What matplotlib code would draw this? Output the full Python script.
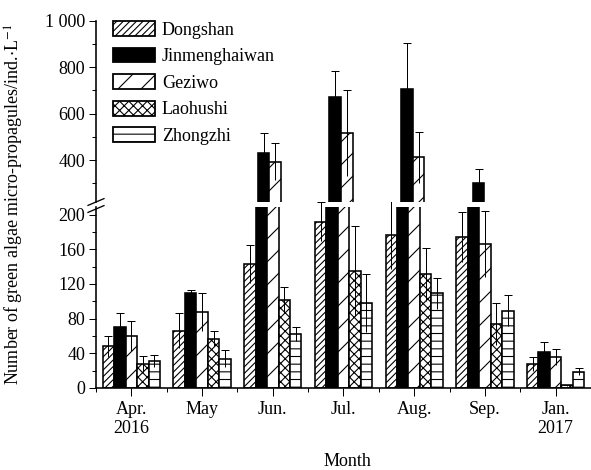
import matplotlib
matplotlib.use('Agg')
import matplotlib.pyplot as plt
from matplotlib.patches import Patch
from matplotlib.lines import Line2D
import numpy as np

# ---------------- data ----------------
months = ['Apr.\n2016', 'May', 'Jun.', 'Jul.', 'Aug.', 'Sep.', 'Jan.\n2017']
sites = ['Dongshan', 'Jinmenghaiwan', 'Geziwo', 'Laohushi', 'Zhongzhi']
dongshan = [48, 66, 143, 192, 177, 174, 28]
dongshan_err = [12, 20, 22, 23, 40, 29, 8]
jinmenghaiwan = [70, 110, 429, 673, 705, 300, 42]
jinmenghaiwan_err = [17, 3, 86, 112, 200, 60, 11]
geziwo = [60, 88, 393, 515, 412, 166, 36]
geziwo_err = [17, 22, 79, 185, 110, 38, 9]
laohushi = [28, 57, 101, 135, 131, 74, 3]
laohushi_err = [9, 9, 15, 52, 31, 24, 1]
zhongzhi = [31, 34, 62, 98, 109, 89, 19]
zhongzhi_err = [7, 10, 8, 33, 18, 18, 4]

values = [dongshan, jinmenghaiwan, geziwo, laohushi, zhongzhi]
errors = [dongshan_err, jinmenghaiwan_err, geziwo_err, laohushi_err, zhongzhi_err]

lower_ticks = [0, 40, 80, 120, 160, 200]
upper_ticks = [400, 600, 800, 1000]
upper_ticklabels = ['400', '600', '800', '1 000']

# ---------------- style ----------------
DPI = 138
W, H = 591, 470
PT = 72.0 / DPI  # points per pixel

plt.rcParams['font.family'] = ['Liberation Serif', 'DejaVu Serif']
plt.rcParams['mathtext.fontset'] = 'stix'
plt.rcParams['hatch.linewidth'] = 1.1 * PT
FS = 18 * PT

hatches = ['///////', None, '//', 'xxxxx', '---']
faces = ['white', 'black', 'white', 'white', 'white']

fig = plt.figure(figsize=(W / DPI, H / DPI), dpi=DPI)

def fx(px):
    return px / W

def fy(py):
    return 1 - py / H

left, right = 96, 591
ax_lo = fig.add_axes([fx(left), fy(388), fx(right - left), (388 - 207) / H])
ax_hi = fig.add_axes([fx(left), fy(202), fx(right - left), (202 - 20.7) / H])

lo_max = (388 - 207) / 0.867
hi_min = 400 - (202 - 160) / 0.23217

x = np.arange(len(months))
bw = 0.162
offsets = (np.arange(5) - 2) * bw

for ax in (ax_lo, ax_hi):
    for i in range(5):
        ax.bar(x + offsets[i], values[i], width=bw, color=faces[i],
               edgecolor='black', linewidth=1.6 * PT, hatch=hatches[i], zorder=2)
    ax.set_xlim(-0.5, -0.5 + (right - left) / 71.67)
    for s in ('top', 'right'):
        ax.spines[s].set_visible(False)
    ax.spines['left'].set_linewidth(1.6 * PT)
    ax.spines['bottom'].set_linewidth(1.6 * PT)

cap_ms = 8 * PT
elw = 1.0 * PT
for i in range(5):
    for j in range(len(months)):
        v, e = values[i][j], errors[i][j]
        xx = x[j] + offsets[i]
        if v < lo_max:
            ax = ax_lo
        else:
            ax = ax_hi
        ax.vlines(xx, v - e, v + e, colors='black', linewidth=elw, zorder=3,
                  clip_on=False)
        ax.plot([xx], [v + e], marker='_', ms=cap_ms, mew=elw, color='black',
                ls='none', zorder=3, clip_on=False)

ax_lo.set_ylim(0, lo_max)
ax_hi.set_ylim(hi_min, 1000)

ax_lo.set_yticks(lower_ticks)
ax_lo.set_yticks(np.arange(20, 200, 40), minor=True)
ax_hi.set_yticks(upper_ticks)
ax_hi.set_yticklabels(upper_ticklabels)
ax_hi.set_yticks([300, 500, 700, 900], minor=True)

ax_lo.set_xticks(x)
ax_lo.set_xticklabels(months)
ax_lo.set_xticks(np.arange(-0.5, 6.6, 1.0), minor=True)

ax_hi.spines['bottom'].set_visible(False)
ax_hi.tick_params(axis='x', which='both', bottom=False, labelbottom=False)

for ax in (ax_lo, ax_hi):
    ax.tick_params(axis='both', which='major', length=7.5 * PT, width=1.0 * PT,
                   labelsize=FS, direction='out', pad=3 * PT)
    ax.tick_params(axis='both', which='minor', length=4 * PT, width=1.0 * PT,
                   direction='out')
ax_lo.tick_params(axis='x', which='major', pad=5 * PT)

# y label and x label
fig.text(fx(14), fy(204), 'Number of green algae micro-propagules/ind.$\\cdot$L$^{-1}$',
         rotation=90, ha='center', va='center', fontsize=FS)
fig.text(fx(347), fy(461), 'Month', ha='center', va='center', fontsize=FS)

# break marks
for yc in (202, 209):
    fig.add_artist(Line2D([fx(88), fx(104)], [fy(yc + 3.4), fy(yc - 3.4)],
                          color='black', linewidth=1.3 * PT))

# legend
handles = [Patch(facecolor=faces[i], edgecolor='black', hatch=hatches[i],
                 linewidth=1.8 * PT) for i in range(5)]
fig.legend(handles, sites, loc='upper left', bbox_to_anchor=(fx(113), fy(21)),
           frameon=False, fontsize=FS, handlelength=42 / 18, handleheight=16 / 18,
           handletextpad=7 / 18, labelspacing=0.5, borderpad=0, borderaxespad=0)

fig.savefig('out.png', dpi=DPI)
